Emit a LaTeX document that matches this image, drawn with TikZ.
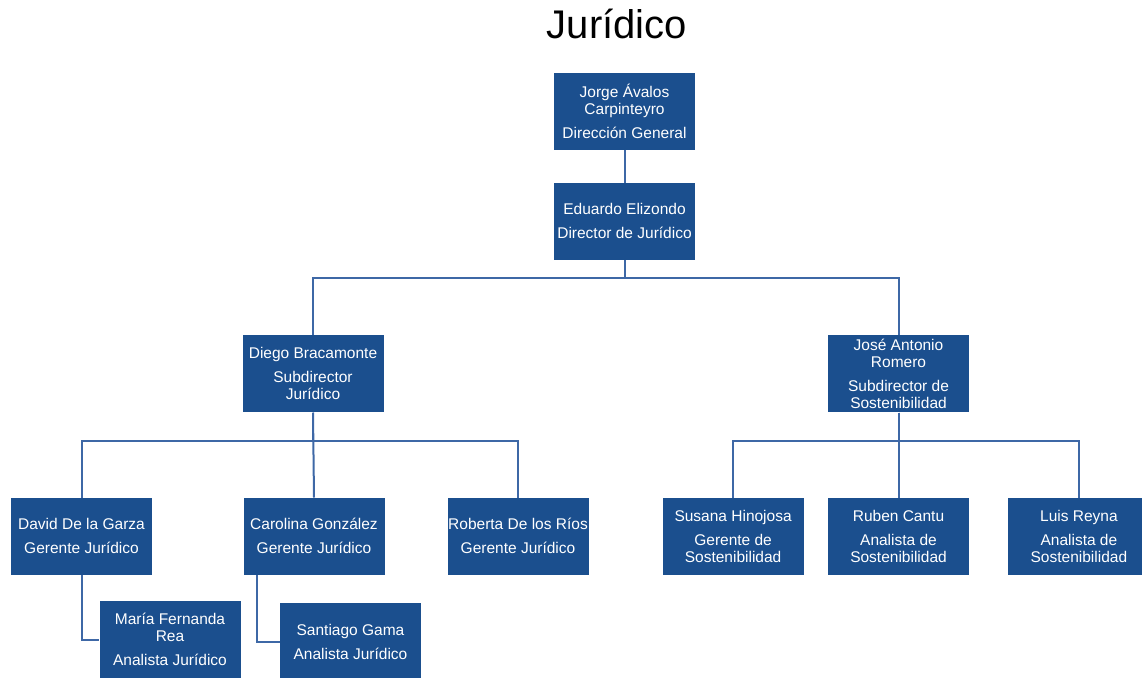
\documentclass[tikz,border=0pt]{standalone}
\usepackage{fontspec}
\setmainfont{Liberation Sans}
\usepackage{tikz}
\usetikzlibrary{positioning}

\definecolor{boxblue}{RGB}{27,79,142}
\definecolor{lineblue}{RGB}{62,104,166}

\begin{document}
\begin{tikzpicture}[
  box/.style={fill=boxblue, text=white, align=center, inner xsep=0pt, inner ysep=2pt,
    minimum width=141pt, minimum height=77pt,
    font=\fontsize{15.5}{17}\selectfont},
  link/.style={draw=lineblue, line width=2pt},
  node distance=33pt
]
\useasboundingbox (0,0) rectangle (1142pt,-677pt);
\node[anchor=base, font=\fontsize{40}{44}\selectfont] (title) at (617pt,-39pt) {Jurídico};
\node[box] (jorge) at (624.5pt,-111pt) {Jorge Ávalos\\Carpinteyro\\[7pt]Dirección General};
\node[box, below=of jorge] (eduardo) {Eduardo Elizondo\\[7pt]Director de Jurídico};
\node[box, below=75pt of eduardo, xshift=-311.5pt] (diego) {Diego Bracamonte\\[7pt]Subdirector\\Jurídico};
\node[box, below=75pt of eduardo, xshift=274pt] (jose) {José Antonio\\Romero\\[7pt]Subdirector de\\Sostenibilidad};
\node[box, below=85pt of diego, xshift=-231.5pt] (david) {David De la Garza\\[7pt]Gerente Jurídico};
\node[box, below=85pt of diego, xshift=1pt] (carolina) {Carolina González\\[7pt]Gerente Jurídico};
\node[box, below=85pt of diego, xshift=205pt] (roberta) {Roberta De los Ríos\\[7pt]Gerente Jurídico};
\node[box, below=85pt of jose] (ruben) {Ruben Cantu\\[7pt]Analista de\\Sostenibilidad};
\node[box, left=24pt of ruben] (susana) {Susana Hinojosa\\[7pt]Gerente de\\Sostenibilidad};
\node[box, right=39pt of ruben] (luis) {Luis Reyna\\[7pt]Analista de\\Sostenibilidad};
\node[box, below=26pt of david, xshift=88.5pt] (maria) {María Fernanda\\Rea\\[7pt]Analista Jurídico};
\node[box, below=28pt of carolina, xshift=36.5pt] (santiago) {Santiago Gama\\[7pt]Analista Jurídico};

\draw[link] (jorge) -- (eduardo);
\draw[link] (eduardo.south) -- ++(0,-18pt) -| (diego.north);
\draw[link] (eduardo.south) -- ++(0,-18pt) -| (jose.north);
\draw[link] (diego.south) -- ++(0,-28pt) -| (david.north);
\draw[link] (diego.south) -- (carolina.north);
\draw[link] (diego.south) -- ++(0,-28pt) -| (roberta.north);
\draw[link] (jose.south) -- ++(0,-28pt) -| (susana.north);
\draw[link] (jose.south) -- (ruben.north);
\draw[link] (jose.south) -- ++(0,-28pt) -| (luis.north);
\draw[link] (david.south) |- (maria.west);
\draw[link] ([xshift=14pt]carolina.south west) |- (santiago.west);
\end{tikzpicture}
\end{document}
